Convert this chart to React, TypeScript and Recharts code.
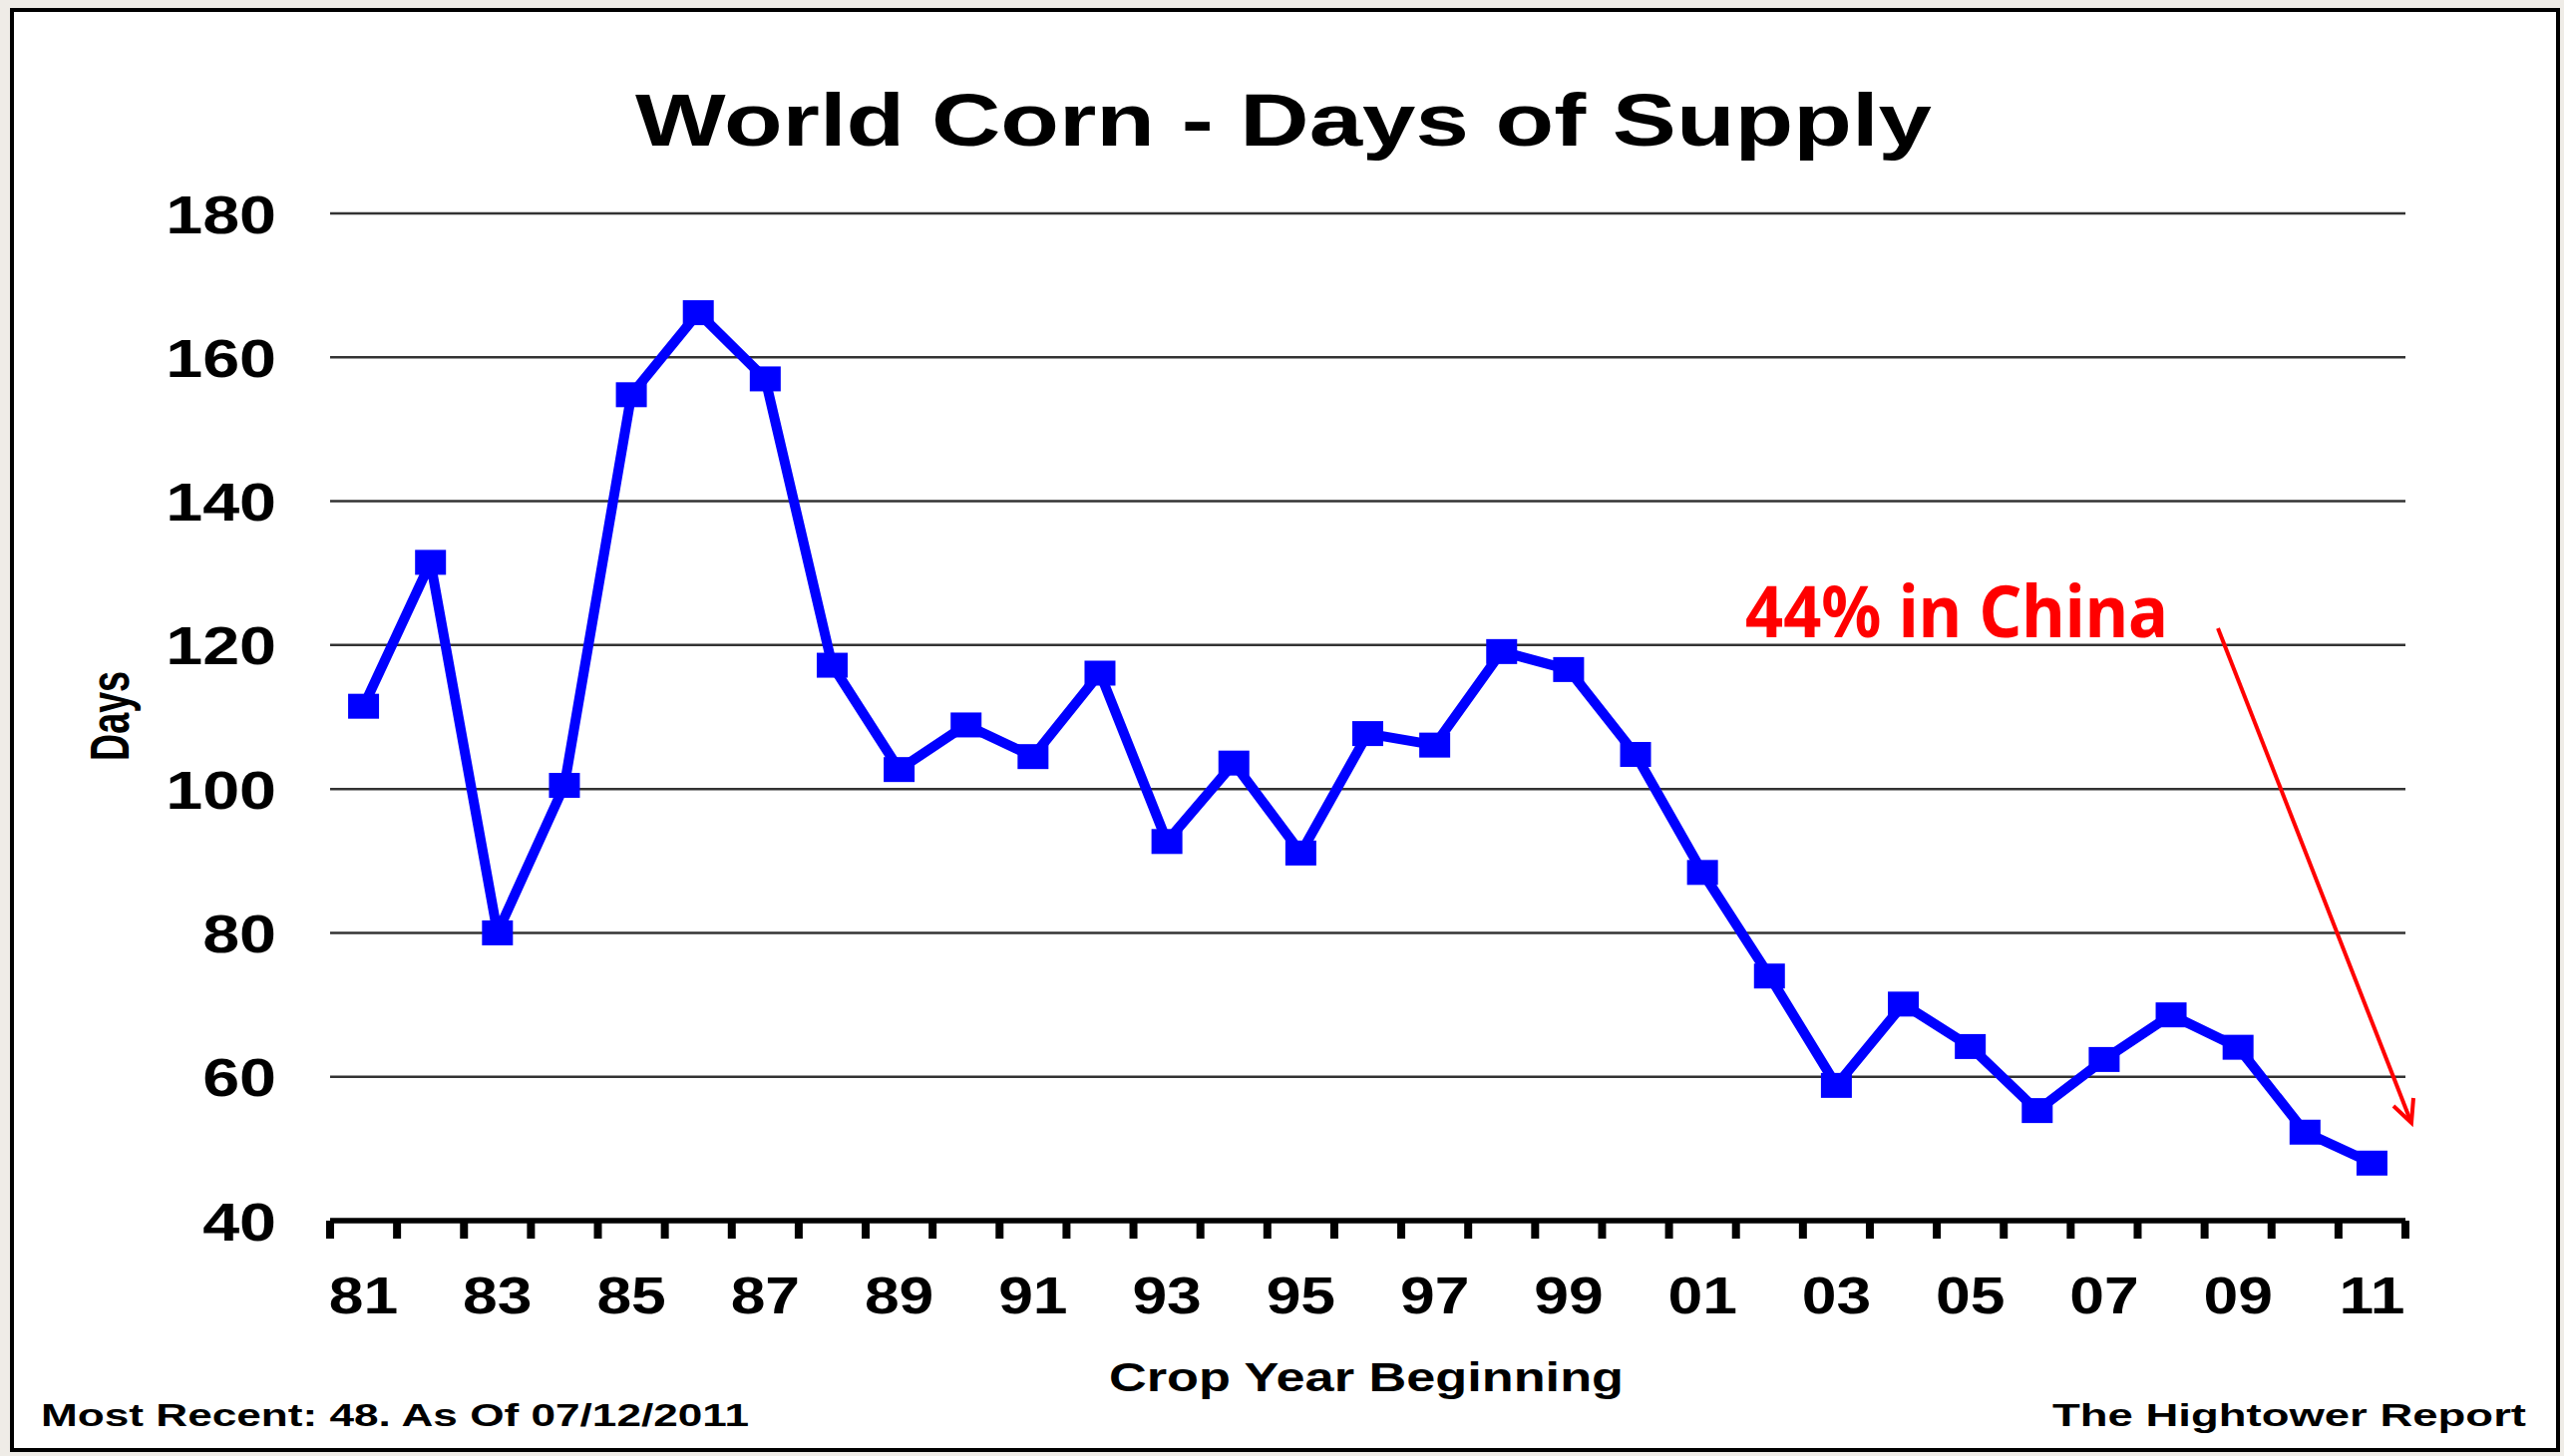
import React from 'react';
import { LineChart, Line, XAxis, YAxis, CartesianGrid } from 'recharts';

const years = ['81', '82', '83', '84', '85', '86', '87', '88', '89', '90', '91', '92', '93', '94', '95', '96', '97', '98', '99', '00', '01', '02', '03', '04', '05', '06', '07', '08', '09', '10', '11'];
const daysOfSupply = [111.5, 131.5, 80, 100.5, 154.8, 166.2, 157, 117.2, 102.7, 108.9, 104.5, 116.1, 92.7, 103.6, 91.1, 107.7, 106.1, 119.1, 116.6, 104.8, 88.4, 74, 58.8, 70.1, 64.2, 55.3, 62.4, 68.6, 64.1, 52.3, 48];
const yTicks = [40, 60, 80, 100, 120, 140, 160, 180];

const W = 2571;
const H = 1460;
const PLOT_LEFT = 331;
const PLOT_RIGHT = 2412;
const PLOT_TOP = 214;
const PLOT_BOTTOM = 1224;
const Y_AXIS_W = 200;
const X_AXIS_H = 120;
const BAND = (PLOT_RIGHT - PLOT_LEFT) / years.length;
const FONT = "'Liberation Sans', Arial, Helvetica, sans-serif";

const data = years.map((year, i) => ({ year, days: daysOfSupply[i] }));

const XTick = (props: any) => {
  const { x, y, payload } = props;
  const i = payload?.index ?? props.index;
  const half = BAND / 2;
  return (
    <g>
      <line x1={x - half} x2={x - half} y1={y} y2={y + 18} stroke="#000" strokeWidth={8} />
      {i === years.length - 1 && (
        <line x1={x + half} x2={x + half} y1={y} y2={y + 18} stroke="#000" strokeWidth={8} />
      )}
      {i % 2 === 0 && (
        <g transform={`translate(${x},${y + 93}) scale(1.2,1)`}>
          <text x={0} y={0} textAnchor="middle" fontFamily={FONT} fontWeight="bold" fontSize={52} fill="#000">
            {payload.value}
          </text>
        </g>
      )}
    </g>
  );
};

const YTick = (props: any) => {
  const { x, y, payload } = props;
  return (
    <g transform={`translate(${x},${y}) scale(1.23,1)`}>
      <text x={0} y={0} dy={19.5} textAnchor="end" fontFamily={FONT} fontWeight="bold" fontSize={54} fill="#000">
        {payload.value}
      </text>
    </g>
  );
};

const SquareDot = (props: any) => {
  const { cx, cy, index } = props;
  if (cx == null || cy == null) return null;
  return <rect key={`dot-${index}`} x={cx - 15.5} y={cy - 12.5} width={31} height={25} fill="#0000ff" />;
};

export default function App() {
  return (
    <div style={{ position: 'absolute', left: 0, top: 0, width: W, height: H, background: '#efece7', overflow: 'hidden' }}>
      <div
        style={{
          position: 'absolute',
          left: 10,
          top: 8,
          width: 2557,
          height: 1448,
          border: '4px solid #000',
          boxSizing: 'border-box',
          background: '#fff',
        }}
      />
      <div style={{ position: 'absolute', left: 0, top: 0, width: W, height: H }}>
        <LineChart
          width={W}
          height={H}
          data={data}
          margin={{ top: PLOT_TOP, right: W - PLOT_RIGHT, bottom: H - PLOT_BOTTOM - X_AXIS_H, left: PLOT_LEFT - Y_AXIS_W }}
        >
          <CartesianGrid vertical={false} stroke="#333" strokeWidth={2.5} />
          <XAxis
            dataKey="year"
            interval={0}
            padding={{ left: BAND / 2, right: BAND / 2 }}
            height={X_AXIS_H}
            tickSize={0}
            tickMargin={0}
            axisLine={{ stroke: '#000', strokeWidth: 5.5 }}
            tickLine={false}
            tick={(p: any) => <XTick {...p} />}
          />
          <YAxis
            type="number"
            domain={[40, 180]}
            ticks={yTicks}
            interval={0}
            width={Y_AXIS_W}
            axisLine={false}
            tickLine={false}
            tickSize={0}
            tickMargin={54}
            allowDataOverflow
            tick={(p: any) => <YTick {...p} />}
          />
          <Line
            dataKey="days"
            stroke="#0000ff"
            strokeWidth={10}
            strokeLinejoin="round"
            dot={(p: any) => <SquareDot key={`d${p.index}`} {...p} />}
            activeDot={false}
            isAnimationActive={false}
          />
        </LineChart>
      </div>
      <svg width={W} height={H} style={{ position: 'absolute', left: 0, top: 0, pointerEvents: 'none' }}>
        <text x={637} y={146} fontFamily={FONT} fontWeight="bold" fontSize={74} fill="#000" textLength={1300} lengthAdjust="spacingAndGlyphs">
          World Corn - Days of Supply
        </text>
        <g transform="translate(129,718) rotate(-90) scale(1,1.27)">
          <text x={0} y={0} textAnchor="middle" fontFamily={FONT} fontWeight="bold" fontSize={44} fill="#000" textLength={90} lengthAdjust="spacingAndGlyphs">
            Days
          </text>
        </g>
        <text x={1112} y={1395} fontFamily={FONT} fontWeight="bold" fontSize={40} fill="#000" textLength={516} lengthAdjust="spacingAndGlyphs">
          Crop Year Beginning
        </text>
        <text x={41} y={1430} fontFamily={FONT} fontWeight="bold" fontSize={31} fill="#000" textLength={710} lengthAdjust="spacingAndGlyphs">
          Most Recent: 48. As Of 07/12/2011
        </text>
        <text x={2058} y={1430} fontFamily={FONT} fontWeight="bold" fontSize={31} fill="#000" textLength={475} lengthAdjust="spacingAndGlyphs">
          The Hightower Report
        </text>
        <text x={1750} y={639} fontFamily="'Noto Sans', 'Open Sans', sans-serif" fontWeight="bold" fontSize={71} fill="#ff0000" textLength={424} lengthAdjust="spacingAndGlyphs">
          44% in China
        </text>
        <line x1={2224} y1={630} x2={2418} y2={1126} stroke="#ff0000" strokeWidth={4} />
        <polyline points="2400,1109 2418,1126 2420,1101" fill="none" stroke="#ff0000" strokeWidth={4} />
      </svg>
    </div>
  );
}
